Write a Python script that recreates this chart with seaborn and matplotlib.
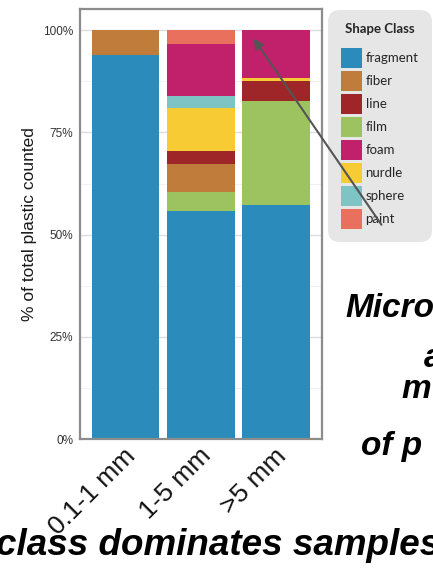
import numpy as np
import pandas as pd
import matplotlib
matplotlib.use("Agg")
import matplotlib.pyplot as plt
import matplotlib.transforms as mtransforms
from matplotlib.patches import Patch, FancyArrowPatch
from matplotlib.ticker import FixedLocator, PercentFormatter
import seaborn as sns

# ---- data ----
sizes = ["0.1-1 mm", "1-5 mm", ">5 mm"]
# stacking order bottom -> top
stack_order = ["fragment", "film", "fiber", "line", "nurdle", "sphere", "foam", "paint"]
legend_order = ["fragment", "fiber", "line", "film", "foam", "nurdle", "sphere", "paint"]
fragment = [94.0, 55.7, 57.3]
film = [0.0, 4.8, 25.3]
fiber = [6.0, 6.7, 0.0]
line = [0.0, 3.3, 4.9]
nurdle = [0.0, 10.6, 0.7]
sphere = [0.0, 2.9, 0.0]
foam = [0.0, 12.7, 11.8]
paint = [0.0, 3.3, 0.0]
palette = {
    "fragment": "#2B8CBB", "fiber": "#C07C3A", "line": "#9E2629", "film": "#9CC35F",
    "foam": "#C1216B", "nurdle": "#F6CB33", "sphere": "#7FC4C4", "paint": "#E8705C",
}
yticks = [0, 0.25, 0.5, 0.75, 1.0]

values = {"fragment": fragment, "film": film, "fiber": fiber, "line": line,
          "nurdle": nurdle, "sphere": sphere, "foam": foam, "paint": paint}
df = pd.DataFrame(values, index=sizes)[stack_order] / 100.0
cum = df.cumsum(axis=1)

sns.set_style("white")
plt.rcParams["font.family"] = ["Liberation Sans", "DejaVu Sans"]

W, H = 433, 568
fig = plt.figure(figsize=(W / 100, H / 100), dpi=100)
ax = fig.add_axes([80 / W, 1 - 439 / H, 242 / W, 430 / H])

# overdraw cumulative bars, top category first
for cls in stack_order[::-1]:
    d = pd.DataFrame({"size": sizes, "top": cum[cls].values})
    sns.barplot(data=d, x="size", y="top", order=sizes, color=palette[cls],
                width=0.9, linewidth=0, saturation=1, ax=ax, zorder=2)

ax.set_xlim(-0.607, 2.613)
ax.set_ylim(0, 1.052)
ax.set_facecolor("white")
ax.yaxis.set_major_locator(FixedLocator(yticks))
ax.yaxis.set_minor_locator(FixedLocator([0.125, 0.375, 0.625, 0.875]))
ax.yaxis.set_major_formatter(PercentFormatter(1.0, decimals=0))
ax.grid(axis="y", which="major", color="#dedede", linewidth=1.0, zorder=0)
ax.grid(axis="y", which="minor", color="#efefef", linewidth=0.6, zorder=0)
ax.grid(axis="x", visible=False)
ax.set_axisbelow(True)
for s in ax.spines.values():
    s.set_color("#8c8c8c")
    s.set_linewidth(1.6)
ax.tick_params(axis="y", which="major", length=3, width=1, color="#333333",
               labelsize=8.5, labelcolor="#333333", pad=2)
ax.tick_params(axis="y", which="minor", length=0)
ax.tick_params(axis="x", length=0, labelsize=19, labelcolor="#111111", pad=2)
ax.set_xlabel("")
ax.set_ylabel("% of total plastic counted", fontsize=12.5, color="#1a1a1a", labelpad=4)

offset = mtransforms.ScaledTranslation(-2 / 100, -2 / 100, fig.dpi_scale_trans)
for lab in ax.get_xticklabels():
    lab.set_rotation(45)
    lab.set_ha("right")
    lab.set_va("top")
    lab.set_rotation_mode("anchor")
    lab.set_transform(lab.get_transform() + offset)

# legend
handles = [Patch(facecolor=palette[c], edgecolor="none") for c in legend_order]
leg = fig.legend(handles, legend_order, loc="upper left",
                 bbox_to_anchor=(328 / W, 1 - 10 / H), bbox_transform=fig.transFigure,
                 title="Shape Class", frameon=True, fancybox=True,
                 prop={"family": "Lato", "size": 9.5},
                 title_fontproperties={"family": "Lato", "size": 9.5, "weight": "bold"},
                 handlelength=1.55, handleheight=1.95, labelspacing=0.23,
                 handletextpad=0.3, borderpad=1.0, borderaxespad=0)
leg._legend_box.sep = 9
fr = leg.get_frame()
fr.set_facecolor("#e6e6e6")
fr.set_edgecolor("none")
fr.set_alpha(1)
fr.set_boxstyle("round,pad=0,rounding_size=0.9")
leg.set_zorder(4)

# arrow
arr = FancyArrowPatch((383 / W, 1 - 227 / H), (252 / W, 1 - 36 / H),
                      transform=fig.transFigure, arrowstyle="-|>,head_length=6,head_width=3",
                      color="#555555", linewidth=1.5, zorder=10)
fig.add_artist(arr)

# slide text fragments
tkw = dict(fontsize=24, fontweight="bold", style="italic", color="black",
           family=["Liberation Sans", "DejaVu Sans"], va="baseline", ha="left")
fig.text(345 / W, 1 - 317 / H, "Micro", **tkw)
fig.text(424 / W, 1 - 367 / H, "a", **tkw)
fig.text(401 / W, 1 - 398 / H, "m", **tkw)
fig.text(361 / W, 1 - 455 / H, "of p", **tkw)
fig.text(-4 / W, 1 - 555 / H, "class dominates samples", fontsize=26.5,
         fontweight="bold", style="italic", color="black",
         family=["Liberation Sans", "DejaVu Sans"], va="baseline", ha="left")

fig.savefig("out.png", dpi=100)
